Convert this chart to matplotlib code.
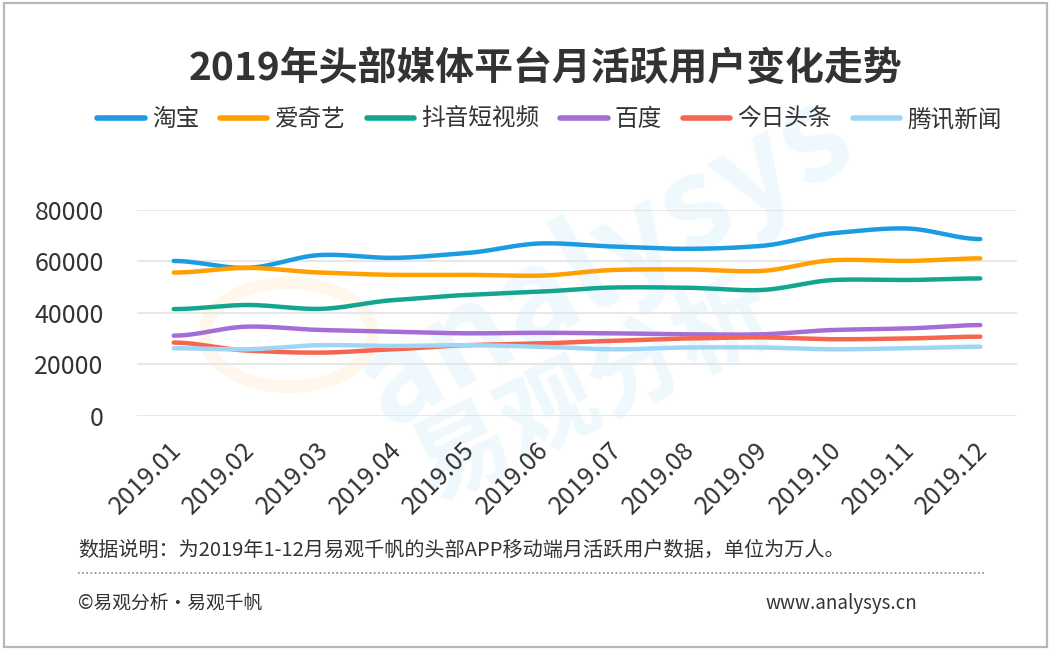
import matplotlib
matplotlib.use("Agg")
import matplotlib.pyplot as plt
import numpy as np
from matplotlib.lines import Line2D
from matplotlib.patches import Rectangle, Circle
from matplotlib.transforms import ScaledTranslation

plt.rcParams['font.family'] = ['Noto Sans CJK SC', 'DejaVu Sans']

months = ["2019.01", "2019.02", "2019.03", "2019.04", "2019.05", "2019.06",
          "2019.07", "2019.08", "2019.09", "2019.10", "2019.11", "2019.12"]

taobao = [60200, 57500, 62500, 61400, 63300, 67000, 65800, 64900, 66000, 71000, 72800, 68700]
iqiyi = [55700, 57500, 55700, 54800, 54800, 54500, 56700, 56900, 56300, 60500, 60200, 61200]
douyin = [41500, 43100, 41600, 45000, 47000, 48300, 49900, 49800, 48900, 52800, 52800, 53400]
baidu = [31200, 34700, 33400, 32700, 32100, 32300, 32100, 31700, 31700, 33400, 34000, 35300]
toutiao = [28500, 25400, 24600, 25900, 27500, 28200, 29200, 30100, 30500, 29800, 30100, 30800]
tencent_news = [26300, 25900, 27500, 27200, 27500, 26900, 25900, 26600, 26600, 25900, 26300, 26900]

names = ["淘宝", "爱奇艺", "抖音短视频", "百度", "今日头条", "腾讯新闻"]
series = [taobao, iqiyi, douyin, baidu, toutiao, tencent_news]
colors = ["#1a9be2", "#ffa000", "#13a68e", "#a56ed6", "#f6654f", "#9fd6f5"]

yticks = [0, 20000, 40000, 60000, 80000]


def smooth(ys, n=24, k=0.35):
    # cubic hermite through the points, for drawing only
    ys = np.asarray(ys, dtype=float)
    xs = np.arange(len(ys), dtype=float)
    m = np.zeros_like(ys)
    m[1:-1] = (ys[2:] - ys[:-2]) * k
    out_x, out_y = [], []
    for i in range(len(ys) - 1):
        t = np.linspace(0, 1, n, endpoint=False)
        h00 = 2 * t**3 - 3 * t**2 + 1
        h10 = t**3 - 2 * t**2 + t
        h01 = -2 * t**3 + 3 * t**2
        h11 = t**3 - t**2
        out_x.extend(xs[i] + t)
        out_y.extend(h00 * ys[i] + h10 * m[i] + h01 * ys[i + 1] + h11 * m[i + 1])
    out_x.append(xs[-1])
    out_y.append(ys[-1])
    return np.array(out_x), np.array(out_y)


fig = plt.figure(figsize=(10.51, 6.5), dpi=100)

# frame
fig.patches.append(Rectangle((0.004, 0.005), 0.992, 0.99, transform=fig.transFigure,
                             fill=False, edgecolor="#b8b8b8", linewidth=1.6))

# faint watermark behind everything
fig.patches.append(Circle((0.275, 0.485), 0.08, transform=fig.transFigure, fill=False,
                          edgecolor="#fff6ec", linewidth=9, zorder=-2))
fig.text(0.575, 0.60, "analysys", fontsize=92, fontweight="bold", color="#eef8fd",
         rotation=30, ha="center", va="center", zorder=-1)
fig.text(0.565, 0.40, "易观分析", fontsize=70, fontweight="bold", color="#eef8fd",
         rotation=26, ha="center", va="center", zorder=-1)

ax = fig.add_axes([0.1304, 0.36, 0.8372, 0.317])
ax.patch.set_alpha(0)

for name, vals, c in zip(names, series, colors):
    sx, sy = smooth(vals)
    ax.plot(sx, sy, color=c, linewidth=3.2, solid_capstyle="round", label=name, zorder=3)

ax.set_xlim(-0.5, 11.5)
ax.set_ylim(0, 80000)
ax.set_yticks(yticks)
ax.set_yticklabels([str(v) for v in yticks])
ax.grid(axis="y", color="#e3e3e3", linewidth=1.2)
ax.set_axisbelow(True)
for s in ax.spines.values():
    s.set_visible(False)
ax.tick_params(axis="both", length=0, labelsize=18, colors="#333333")
ax.tick_params(axis="y", pad=24)
ax.set_xticks(range(len(months)))
ax.set_xticklabels(months, rotation=45, ha="right", va="center", rotation_mode="anchor")
ax.tick_params(axis="x", pad=22)
for lab in ax.get_xticklabels():
    lab.set_transform(lab.get_transform() + ScaledTranslation(0.04, 0, fig.dpi_scale_trans))

fig.text(0.519, 0.895, "2019年头部媒体平台月活跃用户变化走势", fontsize=28, fontweight="bold",
         color="#333333", ha="center", va="center")

handles = [Line2D([0], [0], color=c, linewidth=4, solid_capstyle="round") for c in colors]
fig.legend(handles, names, loc="center", bbox_to_anchor=(0.523, 0.816), ncol=6,
           frameon=False, fontsize=17, handlelength=2.0, handletextpad=0.3,
           columnspacing=0.9, labelcolor="#333333")

fig.text(0.074, 0.153, "数据说明：为2019年1-12月易观千帆的头部APP移动端月活跃用户数据，单位为万人。",
         fontsize=14.5, color="#333333", ha="left", va="center")
fig.add_artist(Line2D([0.074, 0.937], [0.118, 0.118], transform=fig.transFigure,
                      color="#888888", linewidth=1.2, linestyle=(0, (1, 1.5))))
fig.text(0.074, 0.072, "©易观分析·易观千帆", fontsize=13.5, color="#333333", ha="left", va="center")
fig.text(0.728, 0.072, "www.analysys.cn", fontsize=13.5, color="#333333", ha="left", va="center")

fig.savefig("out.png", dpi=100)
